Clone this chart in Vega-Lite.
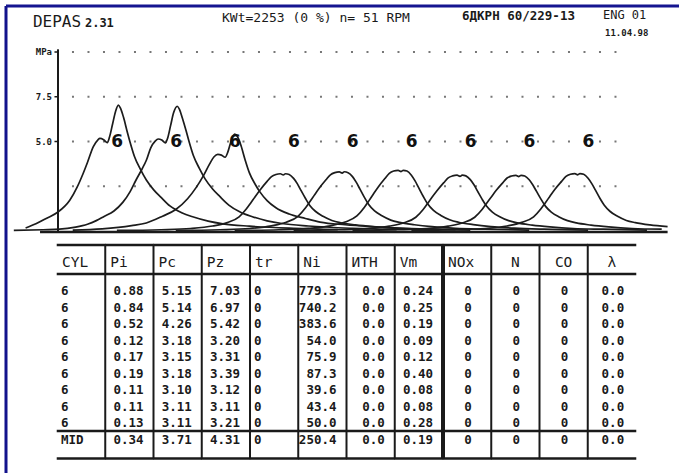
{
"$schema":"https://vega.github.io/schema/vega-lite/v6.json",
"width":673,"height":467,"autosize":"none",
"padding":{"left":6,"top":6,"right":0,"bottom":0},
"background":"#ffffff",
"config":{"view":{"stroke":null},"text":{"font":"DejaVu Sans Mono","color":"#1a1a1a"}},
"datasets":{
"grid":[{"p":10,"label":"MPa"},{"p":7.5,"label":"7.5"},{"p":5,"label":"5.0"},{"p":2.5,"label":""}],
"cyl":[
{"row":1,"tdc":30,"CYL":"6","Pi":"0.88","Pc":"5.15","Pz":"7.03","tr":"0","Ni":"779.3","ИTH":"0.0","Vm":"0.24","NOx":"0","N":"0","CO":"0","λ":"0.0"},
{"row":2,"tdc":70,"CYL":"6","Pi":"0.84","Pc":"5.14","Pz":"6.97","tr":"0","Ni":"740.2","ИTH":"0.0","Vm":"0.25","NOx":"0","N":"0","CO":"0","λ":"0.0"},
{"row":3,"tdc":110,"CYL":"6","Pi":"0.52","Pc":"4.26","Pz":"5.42","tr":"0","Ni":"383.6","ИTH":"0.0","Vm":"0.19","NOx":"0","N":"0","CO":"0","λ":"0.0"},
{"row":4,"tdc":150,"CYL":"6","Pi":"0.12","Pc":"3.18","Pz":"3.20","tr":"0","Ni":"54.0","ИTH":"0.0","Vm":"0.09","NOx":"0","N":"0","CO":"0","λ":"0.0"},
{"row":5,"tdc":190,"CYL":"6","Pi":"0.17","Pc":"3.15","Pz":"3.31","tr":"0","Ni":"75.9","ИTH":"0.0","Vm":"0.12","NOx":"0","N":"0","CO":"0","λ":"0.0"},
{"row":6,"tdc":230,"CYL":"6","Pi":"0.19","Pc":"3.18","Pz":"3.39","tr":"0","Ni":"87.3","ИTH":"0.0","Vm":"0.40","NOx":"0","N":"0","CO":"0","λ":"0.0"},
{"row":7,"tdc":270,"CYL":"6","Pi":"0.11","Pc":"3.10","Pz":"3.12","tr":"0","Ni":"39.6","ИTH":"0.0","Vm":"0.08","NOx":"0","N":"0","CO":"0","λ":"0.0"},
{"row":8,"tdc":310,"CYL":"6","Pi":"0.11","Pc":"3.11","Pz":"3.11","tr":"0","Ni":"43.4","ИTH":"0.0","Vm":"0.08","NOx":"0","N":"0","CO":"0","λ":"0.0"},
{"row":9,"tdc":350,"CYL":"6","Pi":"0.13","Pc":"3.11","Pz":"3.21","tr":"0","Ni":"50.0","ИTH":"0.0","Vm":"0.28","NOx":"0","N":"0","CO":"0","λ":"0.0"},
{"row":10,"CYL":"MID","Pi":"0.34","Pc":"3.71","Pz":"4.31","tr":"0","Ni":"250.4","ИTH":"0.0","Vm":"0.19","NOx":"0","N":"0","CO":"0","λ":"0.0"}
],
"curves":[
{"cyl":1,"angle":-22,"p":0.17},{"cyl":1,"angle":-15,"p":0.4},{"cyl":1,"angle":-8,"p":0.7},{"cyl":1,"angle":0,"p":1.06},{"cyl":1,"angle":8,"p":1.72},{"cyl":1,"angle":13,"p":2.45},{"cyl":1,"angle":17,"p":3.2},{"cyl":1,"angle":20,"p":3.83},{"cyl":1,"angle":24,"p":4.72},{"cyl":1,"angle":27,"p":5.08},{"cyl":1,"angle":28.5,"p":5.17},{"cyl":1,"angle":31,"p":5.1},{"cyl":1,"angle":33.5,"p":4.94},{"cyl":1,"angle":35,"p":5.25},{"cyl":1,"angle":37,"p":5.95},{"cyl":1,"angle":39,"p":6.65},{"cyl":1,"angle":41,"p":7.03},{"cyl":1,"angle":42.5,"p":6.85},{"cyl":1,"angle":44.5,"p":6.35},{"cyl":1,"angle":47,"p":5.55},{"cyl":1,"angle":49,"p":4.95},{"cyl":1,"angle":52,"p":4.15},{"cyl":1,"angle":56,"p":3.44},{"cyl":1,"angle":60,"p":2.85},{"cyl":1,"angle":65,"p":2.3},{"cyl":1,"angle":70,"p":1.88},{"cyl":1,"angle":76,"p":1.4},{"cyl":1,"angle":84,"p":1.02},{"cyl":1,"angle":92,"p":0.78},{"cyl":1,"angle":102,"p":0.55},{"cyl":1,"angle":112,"p":0.4},{"cyl":1,"angle":130,"p":0.27},{"cyl":1,"angle":160,"p":0.15},{"cyl":1,"angle":190,"p":0.08},
{"cyl":2,"angle":-30,"p":0.03},{"cyl":2,"angle":-10,"p":0.07},{"cyl":2,"angle":1,"p":0.1},{"cyl":2,"angle":12,"p":0.22},{"cyl":2,"angle":20,"p":0.38},{"cyl":2,"angle":26,"p":0.58},{"cyl":2,"angle":31,"p":0.8},{"cyl":2,"angle":38,"p":1.12},{"cyl":2,"angle":44,"p":1.6},{"cyl":2,"angle":49,"p":2.2},{"cyl":2,"angle":53,"p":2.85},{"cyl":2,"angle":57,"p":3.45},{"cyl":2,"angle":60,"p":3.95},{"cyl":2,"angle":63,"p":4.65},{"cyl":2,"angle":66,"p":5.02},{"cyl":2,"angle":68,"p":5.14},{"cyl":2,"angle":70.5,"p":5.08},{"cyl":2,"angle":73,"p":4.92},{"cyl":2,"angle":74.5,"p":5.2},{"cyl":2,"angle":76.5,"p":5.9},{"cyl":2,"angle":78.5,"p":6.6},{"cyl":2,"angle":81,"p":6.97},{"cyl":2,"angle":82.5,"p":6.8},{"cyl":2,"angle":84.5,"p":6.3},{"cyl":2,"angle":87,"p":5.6},{"cyl":2,"angle":89,"p":5.0},{"cyl":2,"angle":92,"p":4.2},{"cyl":2,"angle":96,"p":3.5},{"cyl":2,"angle":100,"p":2.9},{"cyl":2,"angle":105,"p":2.35},{"cyl":2,"angle":110,"p":1.92},{"cyl":2,"angle":116,"p":1.45},{"cyl":2,"angle":124,"p":1.05},{"cyl":2,"angle":132,"p":0.8},{"cyl":2,"angle":142,"p":0.57},{"cyl":2,"angle":152,"p":0.42},{"cyl":2,"angle":170,"p":0.28},{"cyl":2,"angle":200,"p":0.15},{"cyl":2,"angle":230,"p":0.08},
{"cyl":3,"angle":10,"p":0.05},{"cyl":3,"angle":30,"p":0.12},{"cyl":3,"angle":50,"p":0.3},{"cyl":3,"angle":60,"p":0.45},{"cyl":3,"angle":71,"p":0.83},{"cyl":3,"angle":80,"p":1.2},{"cyl":3,"angle":88,"p":1.8},{"cyl":3,"angle":94,"p":2.45},{"cyl":3,"angle":98.5,"p":3.05},{"cyl":3,"angle":103,"p":3.75},{"cyl":3,"angle":106,"p":4.15},{"cyl":3,"angle":108.5,"p":4.28},{"cyl":3,"angle":111,"p":4.24},{"cyl":3,"angle":113.5,"p":4.12},{"cyl":3,"angle":115.5,"p":4.45},{"cyl":3,"angle":117.5,"p":5.0},{"cyl":3,"angle":120,"p":5.42},{"cyl":3,"angle":122,"p":5.25},{"cyl":3,"angle":124,"p":4.85},{"cyl":3,"angle":127,"p":4.0},{"cyl":3,"angle":130,"p":3.25},{"cyl":3,"angle":134,"p":2.6},{"cyl":3,"angle":137,"p":2.2},{"cyl":3,"angle":142,"p":1.7},{"cyl":3,"angle":148,"p":1.3},{"cyl":3,"angle":157,"p":0.95},{"cyl":3,"angle":168,"p":0.7},{"cyl":3,"angle":178,"p":0.5},{"cyl":3,"angle":195,"p":0.35},{"cyl":3,"angle":212,"p":0.25},{"cyl":3,"angle":240,"p":0.14},{"cyl":3,"angle":270,"p":0.08},
{"cyl":4,"angle":40,"p":0.03},{"cyl":4,"angle":70,"p":0.07},{"cyl":4,"angle":90,"p":0.14},{"cyl":4,"angle":105,"p":0.28},{"cyl":4,"angle":115,"p":0.47},{"cyl":4,"angle":123,"p":0.79},{"cyl":4,"angle":128,"p":1.24},{"cyl":4,"angle":131,"p":1.58},{"cyl":4,"angle":134,"p":1.93},{"cyl":4,"angle":137.5,"p":2.32},{"cyl":4,"angle":142,"p":2.77},{"cyl":4,"angle":145,"p":3.04},{"cyl":4,"angle":148,"p":3.16},{"cyl":4,"angle":151,"p":3.2},{"cyl":4,"angle":153,"p":3.13},{"cyl":4,"angle":154.5,"p":3.2},{"cyl":4,"angle":157,"p":3.16},{"cyl":4,"angle":160,"p":2.94},{"cyl":4,"angle":162.5,"p":2.65},{"cyl":4,"angle":165,"p":2.27},{"cyl":4,"angle":168,"p":1.83},{"cyl":4,"angle":171,"p":1.43},{"cyl":4,"angle":175,"p":1.09},{"cyl":4,"angle":180,"p":0.82},{"cyl":4,"angle":186,"p":0.59},{"cyl":4,"angle":192,"p":0.46},{"cyl":4,"angle":202,"p":0.34},{"cyl":4,"angle":214,"p":0.24},{"cyl":4,"angle":230,"p":0.15},{"cyl":4,"angle":250,"p":0.1},{"cyl":4,"angle":280,"p":0.05},
{"cyl":5,"angle":80,"p":0.03},{"cyl":5,"angle":110,"p":0.07},{"cyl":5,"angle":130,"p":0.14},{"cyl":5,"angle":145,"p":0.29},{"cyl":5,"angle":155,"p":0.49},{"cyl":5,"angle":163,"p":0.82},{"cyl":5,"angle":168,"p":1.28},{"cyl":5,"angle":171,"p":1.63},{"cyl":5,"angle":174,"p":1.99},{"cyl":5,"angle":177.5,"p":2.4},{"cyl":5,"angle":182,"p":2.86},{"cyl":5,"angle":185,"p":3.14},{"cyl":5,"angle":188,"p":3.26},{"cyl":5,"angle":191,"p":3.3},{"cyl":5,"angle":193,"p":3.23},{"cyl":5,"angle":194.5,"p":3.31},{"cyl":5,"angle":197,"p":3.26},{"cyl":5,"angle":200,"p":3.04},{"cyl":5,"angle":202.5,"p":2.73},{"cyl":5,"angle":205,"p":2.35},{"cyl":5,"angle":208,"p":1.89},{"cyl":5,"angle":211,"p":1.48},{"cyl":5,"angle":215,"p":1.12},{"cyl":5,"angle":220,"p":0.85},{"cyl":5,"angle":226,"p":0.61},{"cyl":5,"angle":232,"p":0.48},{"cyl":5,"angle":242,"p":0.35},{"cyl":5,"angle":254,"p":0.24},{"cyl":5,"angle":270,"p":0.15},{"cyl":5,"angle":290,"p":0.1},{"cyl":5,"angle":320,"p":0.05},
{"cyl":6,"angle":120,"p":0.03},{"cyl":6,"angle":150,"p":0.07},{"cyl":6,"angle":170,"p":0.15},{"cyl":6,"angle":185,"p":0.29},{"cyl":6,"angle":195,"p":0.5},{"cyl":6,"angle":203,"p":0.84},{"cyl":6,"angle":208,"p":1.31},{"cyl":6,"angle":211,"p":1.67},{"cyl":6,"angle":214,"p":2.04},{"cyl":6,"angle":217.5,"p":2.46},{"cyl":6,"angle":222,"p":2.93},{"cyl":6,"angle":225,"p":3.22},{"cyl":6,"angle":228,"p":3.35},{"cyl":6,"angle":231,"p":3.39},{"cyl":6,"angle":233,"p":3.32},{"cyl":6,"angle":234.5,"p":3.39},{"cyl":6,"angle":237,"p":3.35},{"cyl":6,"angle":240,"p":3.12},{"cyl":6,"angle":242.5,"p":2.8},{"cyl":6,"angle":245,"p":2.41},{"cyl":6,"angle":248,"p":1.94},{"cyl":6,"angle":251,"p":1.52},{"cyl":6,"angle":255,"p":1.15},{"cyl":6,"angle":260,"p":0.87},{"cyl":6,"angle":266,"p":0.63},{"cyl":6,"angle":272,"p":0.49},{"cyl":6,"angle":282,"p":0.36},{"cyl":6,"angle":294,"p":0.25},{"cyl":6,"angle":310,"p":0.16},{"cyl":6,"angle":330,"p":0.1},{"cyl":6,"angle":360,"p":0.05},
{"cyl":7,"angle":160,"p":0.03},{"cyl":7,"angle":190,"p":0.07},{"cyl":7,"angle":210,"p":0.13},{"cyl":7,"angle":225,"p":0.27},{"cyl":7,"angle":235,"p":0.46},{"cyl":7,"angle":243,"p":0.77},{"cyl":7,"angle":248,"p":1.2},{"cyl":7,"angle":251,"p":1.54},{"cyl":7,"angle":254,"p":1.88},{"cyl":7,"angle":257.5,"p":2.26},{"cyl":7,"angle":262,"p":2.7},{"cyl":7,"angle":265,"p":2.97},{"cyl":7,"angle":268,"p":3.08},{"cyl":7,"angle":271,"p":3.12},{"cyl":7,"angle":273,"p":3.05},{"cyl":7,"angle":274.5,"p":3.12},{"cyl":7,"angle":277,"p":3.08},{"cyl":7,"angle":280,"p":2.87},{"cyl":7,"angle":282.5,"p":2.58},{"cyl":7,"angle":285,"p":2.21},{"cyl":7,"angle":288,"p":1.78},{"cyl":7,"angle":291,"p":1.4},{"cyl":7,"angle":295,"p":1.06},{"cyl":7,"angle":300,"p":0.8},{"cyl":7,"angle":306,"p":0.58},{"cyl":7,"angle":312,"p":0.45},{"cyl":7,"angle":322,"p":0.33},{"cyl":7,"angle":334,"p":0.23},{"cyl":7,"angle":350,"p":0.14},{"cyl":7,"angle":370,"p":0.1},{"cyl":7,"angle":400,"p":0.05},
{"cyl":8,"angle":200,"p":0.03},{"cyl":8,"angle":230,"p":0.07},{"cyl":8,"angle":250,"p":0.13},{"cyl":8,"angle":265,"p":0.27},{"cyl":8,"angle":275,"p":0.46},{"cyl":8,"angle":283,"p":0.77},{"cyl":8,"angle":288,"p":1.2},{"cyl":8,"angle":291,"p":1.54},{"cyl":8,"angle":294,"p":1.87},{"cyl":8,"angle":297.5,"p":2.26},{"cyl":8,"angle":302,"p":2.69},{"cyl":8,"angle":305,"p":2.96},{"cyl":8,"angle":308,"p":3.07},{"cyl":8,"angle":311,"p":3.11},{"cyl":8,"angle":313,"p":3.04},{"cyl":8,"angle":314.5,"p":3.11},{"cyl":8,"angle":317,"p":3.07},{"cyl":8,"angle":320,"p":2.86},{"cyl":8,"angle":322.5,"p":2.57},{"cyl":8,"angle":325,"p":2.21},{"cyl":8,"angle":328,"p":1.78},{"cyl":8,"angle":331,"p":1.39},{"cyl":8,"angle":335,"p":1.06},{"cyl":8,"angle":340,"p":0.8},{"cyl":8,"angle":346,"p":0.58},{"cyl":8,"angle":352,"p":0.45},{"cyl":8,"angle":362,"p":0.33},{"cyl":8,"angle":374,"p":0.23},{"cyl":8,"angle":390,"p":0.14},{"cyl":8,"angle":410,"p":0.1},
{"cyl":9,"angle":240,"p":0.03},{"cyl":9,"angle":270,"p":0.07},{"cyl":9,"angle":290,"p":0.14},{"cyl":9,"angle":305,"p":0.28},{"cyl":9,"angle":315,"p":0.48},{"cyl":9,"angle":323,"p":0.79},{"cyl":9,"angle":328,"p":1.24},{"cyl":9,"angle":331,"p":1.58},{"cyl":9,"angle":334,"p":1.93},{"cyl":9,"angle":337.5,"p":2.33},{"cyl":9,"angle":342,"p":2.77},{"cyl":9,"angle":345,"p":3.05},{"cyl":9,"angle":348,"p":3.17},{"cyl":9,"angle":351,"p":3.21},{"cyl":9,"angle":353,"p":3.14},{"cyl":9,"angle":354.5,"p":3.21},{"cyl":9,"angle":357,"p":3.17},{"cyl":9,"angle":360,"p":2.95},{"cyl":9,"angle":362.5,"p":2.65},{"cyl":9,"angle":365,"p":2.28},{"cyl":9,"angle":368,"p":1.83},{"cyl":9,"angle":371,"p":1.44},{"cyl":9,"angle":375,"p":1.09},{"cyl":9,"angle":380,"p":0.82},{"cyl":9,"angle":386,"p":0.59},{"cyl":9,"angle":392,"p":0.47},{"cyl":9,"angle":402,"p":0.34},{"cyl":9,"angle":414,"p":0.24}
]
},
"layer":[
{"layer":[
{"data":{"values":[{}]},"mark":{"type":"rule","color":"#12128c","strokeWidth":3},"encoding":{"x":{"datum":-35.31,"type":"quantitative","scale":{"domain":[-35.31,421.74],"nice":false,"zero":false},"axis":null},"y":{"datum":12.57,"type":"quantitative","scale":{"domain":[-13.519,12.57],"nice":false,"zero":false},"axis":null},"y2":{"datum":-13.519}}},
{"data":{"values":[{}]},"mark":{"type":"rule","color":"#151590","strokeWidth":3},"encoding":{"x":{"datum":-35.31,"type":"quantitative","scale":{"domain":[-35.31,421.74],"nice":false,"zero":false},"axis":null},"x2":{"datum":421.74},"y":{"datum":12.57,"type":"quantitative","scale":{"domain":[-13.519,12.57],"nice":false,"zero":false},"axis":null}}},
{"data":{"name":"grid"},"mark":{"type":"rule","color":"#777777","strokeWidth":1.8,"strokeDash":[2,13.5]},"encoding":{"x":{"datum":9.5,"type":"quantitative","scale":{"domain":[-35.31,421.74],"nice":false,"zero":false},"axis":null},"x2":{"datum":383.7},"y":{"field":"p","type":"quantitative","scale":{"domain":[-13.519,12.57],"nice":false,"zero":false},"axis":null}}},
{"data":{"name":"grid"},"transform":[{"filter":"datum.label !== ''"}],"mark":{"type":"rule","color":"#1a1a1a","strokeWidth":1.5},"encoding":{"x":{"datum":-2.4,"type":"quantitative","scale":{"domain":[-35.31,421.74],"nice":false,"zero":false},"axis":null},"x2":{"datum":0},"y":{"field":"p","type":"quantitative","scale":{"domain":[-13.519,12.57],"nice":false,"zero":false},"axis":null}}},
{"data":{"name":"grid"},"transform":[{"filter":"datum.label !== ''"}],"mark":{"type":"text","align":"right","dx":-6,"fontSize":9,"fontWeight":"bold"},"encoding":{"x":{"datum":0,"type":"quantitative","scale":{"domain":[-35.31,421.74],"nice":false,"zero":false},"axis":null},"y":{"field":"p","type":"quantitative","scale":{"domain":[-13.519,12.57],"nice":false,"zero":false},"axis":null},"text":{"field":"label"}}},
{"data":{"values":[{}]},"mark":{"type":"rule","color":"#1a1a1a","strokeWidth":2},"encoding":{"x":{"datum":0,"type":"quantitative","scale":{"domain":[-35.31,421.74],"nice":false,"zero":false},"axis":null},"y":{"datum":10.15,"type":"quantitative","scale":{"domain":[-13.519,12.57],"nice":false,"zero":false},"axis":null},"y2":{"datum":0}}},
{"data":{"values":[{}]},"mark":{"type":"rule","color":"#1a1a1a","strokeWidth":2.5},"encoding":{"x":{"datum":-12.2,"type":"quantitative","scale":{"domain":[-35.31,421.74],"nice":false,"zero":false},"axis":null},"x2":{"datum":414},"y":{"datum":-0.05,"type":"quantitative","scale":{"domain":[-13.519,12.57],"nice":false,"zero":false},"axis":null}}},
{"data":{"name":"curves"},"mark":{"type":"line","color":"#1c1c1c","strokeWidth":1.7,"interpolate":"monotone"},"encoding":{"x":{"field":"angle","type":"quantitative","scale":{"domain":[-35.31,421.74],"nice":false,"zero":false},"axis":null},"y":{"field":"p","type":"quantitative","scale":{"domain":[-13.519,12.57],"nice":false,"zero":false},"axis":null},"detail":{"field":"cyl","type":"nominal"}}},
{"data":{"name":"cyl"},"transform":[{"filter":"isValid(datum.tdc)"}],"mark":{"type":"text","font":"DejaVu Sans","fontSize":17,"fontWeight":"bold","dx":15,"color":"#111111"},"encoding":{"x":{"field":"tdc","type":"quantitative","scale":{"domain":[-35.31,421.74],"nice":false,"zero":false},"axis":null},"y":{"datum":5,"type":"quantitative","scale":{"domain":[-13.519,12.57],"nice":false,"zero":false},"axis":null},"text":{"field":"CYL"}}},
{"data":{"values":[{}]},"mark":{"type":"text","align":"left","fontSize":16},"encoding":{"x":{"datum":-17,"type":"quantitative","scale":{"domain":[-35.31,421.74],"nice":false,"zero":false},"axis":null},"y":{"datum":11.68,"type":"quantitative","scale":{"domain":[-13.519,12.57],"nice":false,"zero":false},"axis":null},"text":{"value":"DEPAS"}}},
{"data":{"values":[{}]},"mark":{"type":"text","align":"left","fontSize":12,"fontWeight":"bold"},"encoding":{"x":{"datum":18.3,"type":"quantitative","scale":{"domain":[-35.31,421.74],"nice":false,"zero":false},"axis":null},"y":{"datum":11.6,"type":"quantitative","scale":{"domain":[-13.519,12.57],"nice":false,"zero":false},"axis":null},"text":{"value":"2.31"}}},
{"data":{"values":[{}]},"mark":{"type":"text","align":"left","fontSize":13},"encoding":{"x":{"datum":111.4,"type":"quantitative","scale":{"domain":[-35.31,421.74],"nice":false,"zero":false},"axis":null},"y":{"datum":11.9,"type":"quantitative","scale":{"domain":[-13.519,12.57],"nice":false,"zero":false},"axis":null},"text":{"value":"KWt=2253 (0 %) n= 51 RPM"}}},
{"data":{"values":[{}]},"mark":{"type":"text","align":"left","fontSize":12.5,"fontWeight":"bold"},"encoding":{"x":{"datum":274.4,"type":"quantitative","scale":{"domain":[-35.31,421.74],"nice":false,"zero":false},"axis":null},"y":{"datum":12.0,"type":"quantitative","scale":{"domain":[-13.519,12.57],"nice":false,"zero":false},"axis":null},"text":{"value":"6ДKPH 60/229-13"}}},
{"data":{"values":[{}]},"mark":{"type":"text","align":"left","fontSize":12},"encoding":{"x":{"datum":370.1,"type":"quantitative","scale":{"domain":[-35.31,421.74],"nice":false,"zero":false},"axis":null},"y":{"datum":12.07,"type":"quantitative","scale":{"domain":[-13.519,12.57],"nice":false,"zero":false},"axis":null},"text":{"value":"ENG 01"}}},
{"data":{"values":[{}]},"mark":{"type":"text","align":"left","fontSize":9,"fontWeight":"bold"},"encoding":{"x":{"datum":371.5,"type":"quantitative","scale":{"domain":[-35.31,421.74],"nice":false,"zero":false},"axis":null},"y":{"datum":11.06,"type":"quantitative","scale":{"domain":[-13.519,12.57],"nice":false,"zero":false},"axis":null},"text":{"value":"11.04.98"}}}
]},
{"layer":[
{"data":{"name":"cyl"},"transform":[{"fold":["CYL","Pi","Pc","Pz","tr","Ni","ИTH","Vm","NOx","N","CO","λ"]},{"filter":"datum.row === 1 && indexof(['N','CO','λ'], datum.key) < 0"}],"mark":{"type":"text","align":"left","dx":5,"fontSize":14.5},"encoding":{"x":{"field":"key","type":"nominal","bandPosition":0,"scale":{"type":"band","domain":["CYL","Pi","Pc","Pz","tr","Ni","ИTH","Vm","NOx","N","CO","λ"],"range":[51,630],"paddingInner":0,"paddingOuter":0},"axis":null},"y":{"datum":-0.7,"type":"quantitative","scale":{"domain":[-16.273,12.03],"reverse":true,"nice":false,"zero":false},"axis":null},"text":{"field":"key"}}},
{"data":{"name":"cyl"},"transform":[{"fold":["CYL","Pi","Pc","Pz","tr","Ni","ИTH","Vm","NOx","N","CO","λ"]},{"filter":"datum.row === 1 && indexof(['N','CO','λ'], datum.key) >= 0"}],"mark":{"type":"text","align":"center","fontSize":14.5},"encoding":{"x":{"field":"key","type":"nominal","bandPosition":0.5,"scale":{"type":"band","domain":["CYL","Pi","Pc","Pz","tr","Ni","ИTH","Vm","NOx","N","CO","λ"],"range":[51,630],"paddingInner":0,"paddingOuter":0},"axis":null},"y":{"datum":-0.7,"type":"quantitative","scale":{"domain":[-16.273,12.03],"reverse":true,"nice":false,"zero":false},"axis":null},"text":{"field":"key"}}},
{"data":{"name":"cyl"},"transform":[{"fold":["CYL","Pi","Pc","Pz","tr","Ni","ИTH","Vm","NOx","N","CO","λ"]},{"filter":"indexof(['CYL','tr'], datum.key) >= 0"}],"mark":{"type":"text","align":"left","dx":4,"fontSize":12.5,"fontWeight":"bold"},"encoding":{"x":{"field":"key","type":"nominal","bandPosition":0,"scale":{"type":"band","domain":["CYL","Pi","Pc","Pz","tr","Ni","ИTH","Vm","NOx","N","CO","λ"],"range":[51,630],"paddingInner":0,"paddingOuter":0},"axis":null},"y":{"field":"row","type":"quantitative","scale":{"domain":[-16.273,12.03],"reverse":true,"nice":false,"zero":false},"axis":null},"text":{"field":"value"}}},
{"data":{"name":"cyl"},"transform":[{"fold":["CYL","Pi","Pc","Pz","tr","Ni","ИTH","Vm","NOx","N","CO","λ"]},{"filter":"indexof(['Pi','Pc','Pz','Ni','ИTH','Vm'], datum.key) >= 0"}],"mark":{"type":"text","align":"right","dx":-10,"fontSize":12.5,"fontWeight":"bold"},"encoding":{"x":{"field":"key","type":"nominal","bandPosition":1,"scale":{"type":"band","domain":["CYL","Pi","Pc","Pz","tr","Ni","ИTH","Vm","NOx","N","CO","λ"],"range":[51,630],"paddingInner":0,"paddingOuter":0},"axis":null},"y":{"field":"row","type":"quantitative","scale":{"domain":[-16.273,12.03],"reverse":true,"nice":false,"zero":false},"axis":null},"text":{"field":"value"}}},
{"data":{"name":"cyl"},"transform":[{"fold":["CYL","Pi","Pc","Pz","tr","Ni","ИTH","Vm","NOx","N","CO","λ"]},{"filter":"indexof(['NOx','N','CO','λ'], datum.key) >= 0"}],"mark":{"type":"text","align":"center","dx":1,"fontSize":12.5,"fontWeight":"bold"},"encoding":{"x":{"field":"key","type":"nominal","bandPosition":0.5,"scale":{"type":"band","domain":["CYL","Pi","Pc","Pz","tr","Ni","ИTH","Vm","NOx","N","CO","λ"],"range":[51,630],"paddingInner":0,"paddingOuter":0},"axis":null},"y":{"field":"row","type":"quantitative","scale":{"domain":[-16.273,12.03],"reverse":true,"nice":false,"zero":false},"axis":null},"text":{"field":"value"}}},
{"data":{"name":"cyl"},"transform":[{"fold":["CYL","Pi","Pc","Pz","tr","Ni","ИTH","Vm","NOx","N","CO","λ"]},{"filter":"datum.row === 1 && datum.key !== 'CYL'"}],"mark":{"type":"rule","color":"#1a1a1a"},"encoding":{"x":{"field":"key","type":"nominal","bandPosition":0,"scale":{"type":"band","domain":["CYL","Pi","Pc","Pz","tr","Ni","ИTH","Vm","NOx","N","CO","λ"],"range":[51,630],"paddingInner":0,"paddingOuter":0},"axis":null},"y":{"datum":-1.788,"type":"quantitative","scale":{"domain":[-16.273,12.03],"reverse":true,"nice":false,"zero":false},"axis":null},"y2":{"datum":11.15},"strokeWidth":{"condition":{"test":"datum.key === 'NOx'","value":4},"value":2}}},
{"data":{"name":"cyl"},"transform":[{"fold":["CYL","Pi","Pc","Pz","tr","Ni","ИTH","Vm","NOx","N","CO","λ"]},{"filter":"datum.row === 1"}],"mark":{"type":"tick","color":"#1a1a1a","size":48.8,"thickness":2.5,"opacity":1},"encoding":{"x":{"field":"key","type":"nominal","scale":{"type":"band","domain":["CYL","Pi","Pc","Pz","tr","Ni","ИTH","Vm","NOx","N","CO","λ"],"range":[51,630],"paddingInner":0,"paddingOuter":0},"axis":null},"y":{"datum":-1.788,"type":"quantitative","scale":{"domain":[-16.273,12.03],"reverse":true,"nice":false,"zero":false},"axis":null}}},
{"data":{"name":"cyl"},"transform":[{"fold":["CYL","Pi","Pc","Pz","tr","Ni","ИTH","Vm","NOx","N","CO","λ"]},{"filter":"datum.row === 1"}],"mark":{"type":"tick","color":"#1a1a1a","size":48.8,"thickness":2.5,"opacity":1},"encoding":{"x":{"field":"key","type":"nominal","scale":{"type":"band","domain":["CYL","Pi","Pc","Pz","tr","Ni","ИTH","Vm","NOx","N","CO","λ"],"range":[51,630],"paddingInner":0,"paddingOuter":0},"axis":null},"y":{"datum":-0.03,"type":"quantitative","scale":{"domain":[-16.273,12.03],"reverse":true,"nice":false,"zero":false},"axis":null}}},
{"data":{"name":"cyl"},"transform":[{"fold":["CYL","Pi","Pc","Pz","tr","Ni","ИTH","Vm","NOx","N","CO","λ"]},{"filter":"datum.row === 1"}],"mark":{"type":"tick","color":"#1a1a1a","size":48.8,"thickness":2.5,"opacity":1},"encoding":{"x":{"field":"key","type":"nominal","scale":{"type":"band","domain":["CYL","Pi","Pc","Pz","tr","Ni","ИTH","Vm","NOx","N","CO","λ"],"range":[51,630],"paddingInner":0,"paddingOuter":0},"axis":null},"y":{"datum":9.485,"type":"quantitative","scale":{"domain":[-16.273,12.03],"reverse":true,"nice":false,"zero":false},"axis":null}}},
{"data":{"name":"cyl"},"transform":[{"fold":["CYL","Pi","Pc","Pz","tr","Ni","ИTH","Vm","NOx","N","CO","λ"]},{"filter":"datum.row === 1"}],"mark":{"type":"tick","color":"#1a1a1a","size":48.8,"thickness":2.5,"opacity":1},"encoding":{"x":{"field":"key","type":"nominal","scale":{"type":"band","domain":["CYL","Pi","Pc","Pz","tr","Ni","ИTH","Vm","NOx","N","CO","λ"],"range":[51,630],"paddingInner":0,"paddingOuter":0},"axis":null},"y":{"datum":11.15,"type":"quantitative","scale":{"domain":[-16.273,12.03],"reverse":true,"nice":false,"zero":false},"axis":null}}}
]}
],
"resolve":{"scale":{"x":"independent","y":"independent"}}
}
